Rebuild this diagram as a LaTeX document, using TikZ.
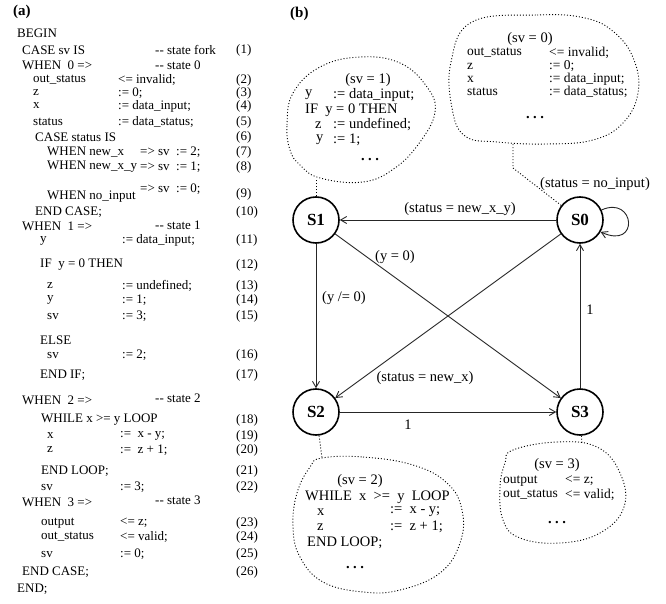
\documentclass[tikz,border=0pt]{standalone}
\usepackage{fontspec}
\setmainfont{Liberation Serif}
\usetikzlibrary{arrows.meta}
\newcommand{\morecode}{\textbf{.\hspace{3.5pt}.\hspace{3.5pt}.}}

\begin{document}
\begin{tikzpicture}[x=1pt,y=-1pt,
  code/.style={anchor=west,inner sep=0pt,font=\fontsize{13}{14}\selectfont},
  note/.style={anchor=west,inner sep=0pt,font=\fontsize{14.5}{15}\selectfont},
  small/.style={anchor=west,inner sep=0pt,font=\fontsize{13.5}{14}\selectfont},
  ctext/.style={inner sep=0pt,font=\fontsize{14.5}{15}\selectfont},
  panel/.style={anchor=west,inner sep=0pt,font=\fontsize{15}{16}\bfseries\selectfont},
  state/.style={circle,draw,line width=1.6pt,minimum size=46pt,inner sep=0pt,
                font=\fontsize{17}{18}\bfseries\selectfont},
  arr/.style={-{Straight Barb[length=6pt,width=7pt]},black!85,line width=0.9pt},
  cloud/.style={dash pattern=on 1pt off 2pt,line width=0.9pt}
]
\useasboundingbox (0,0) rectangle (666,604);

% (a) listing
\node[panel] (pa) at (13,12) {(a)};
\foreach \x/\y/\t [count=\i] in {
  17/33/BEGIN, 22/50/CASE sv IS, 155/50/-{}- state fork,
  22/65/WHEN\ \ 0 =>, 155/65/-{}- state 0,
  33/80/out\_status, 118/80/<= invalid;, 33/93/z, 118/93/:= 0;,
  33/106/x, 118/106/:= data\_input;, 33/122/status, 118/122/:= data\_status;,
  35/137/CASE status IS,
  47/152/WHEN new\_x, 140/152/=> sv\ \ := 2;,
  47/167/WHEN new\_x\_y, 140/167/=> sv\ \ := 1;,
  47/197/WHEN no\_input, 140/189/=> sv\ \ := 0;,
  35/212/END CASE;,
  22/226/WHEN\ \ 1 =>, 155/225/-{}- state 1,
  40/241/y, 122/240/:= data\_input;,
  40/265/IF\ \ y = 0 THEN,
  47/286/z, 122/286/:= undefined;, 47/300/y, 122/300/:= 1;,
  47/316/sv, 122/316/:= 3;,
  40/340/ELSE, 47/355/sv, 122/355/:= 2;, 40/375/END IF;,
  22/400/WHEN\ \ 2 =>, 155/398/-{}- state 2,
  41/420/WHILE x >= y LOOP,
  47/436/x, 120/436/:=\ \ x - y;, 47/450/z, 120/450/:=\ \ z + 1;,
  41/471/END LOOP;, 41/487/sv, 120/487/:= 3;,
  22/502/WHEN\ \ 3 =>, 155/500/-{}- state 3,
  41/523/output, 120/523/<= z;, 41/537/out\_status, 120/537/<= valid;,
  41/554/sv, 120/554/:= 0;,
  22/572/END CASE;, 17/589/END;}
  \node[code] (l\i) at (\x,\y) {\t};
\foreach \y [count=\n] in {50,80,93,106,122,137,152,167,194,212,240,265,286,300,
  316,355,375,420,436,450,471,487,523,537,554,572}
  \node[code] (n\n) at (236,\y) {(\n)};

% (b) state graph
\node[panel] (pb) at (290,14) {(b)};
\node[state] (S1) at (316,220) {S1};
\node[state] (S0) at (580,220) {S0};
\node[state] (S2) at (316,412) {S2};
\node[state] (S3) at (580,412) {S3};

\draw[arr] (S0) -- (S1);
\draw[arr] (S1) -- (S2);
\draw[arr] (S1) -- (S3);
\draw[arr] (S0) -- (S2);
\draw[arr] (S3) -- (S0);
\draw[arr] (S2) -- (S3);
\draw[arr] (S0.25) .. controls (635,195) and (640,250) .. (S0.-30);

\node[ctext] (e01) at (460,209) {(status = new\_x\_y)};
\node[ctext] (e13) at (395,257) {(y = 0)};
\node[note]  (e12) at (322,298) {(y /= 0)};
\node[ctext] (e02) at (425,378) {(status = new\_x)};
\node[ctext] (e30) at (590,310) {1};
\node[ctext] (e23) at (408,425) {1};
\node[ctext] (e00) at (595,184) {(status = no\_input)};

% state bubbles
\draw[cloud] plot[smooth cycle,tension=0.7] coordinates {(290,150) (287,125) (293,93)
  (320,67) (360,57) (400,63) (427,87) (435,112) (420,142) (395,168) (363,182)
  (320,178) (300,165)};
\draw[cloud] plot[smooth cycle,tension=0.7] coordinates {(472,22) (537,15) (585,18)
  (615,33) (634,60) (638,93) (623,123) (593,140) (547,144) (497,142) (465,136)
  (452,108) (451,62)};
\draw[cloud] plot[smooth cycle,tension=0.7] coordinates {(322,458) (363,457) (413,465)
  (447,483) (462,510) (460,543) (440,573) (400,590) (363,592) (323,582) (300,557)
  (293,527) (297,493) (310,467)};
\draw[cloud] plot[smooth cycle,tension=0.7] coordinates {(513,450) (557,442) (597,447)
  (620,473) (624,507) (600,533) (560,543) (520,538) (503,520) (500,487) (505,463)};

\coordinate (c1) at (316,179);
\coordinate (c0a) at (513,168);
\coordinate (c0b) at (513,143);
\coordinate (c2) at (322,458);
\coordinate (c3) at (582,444);
\draw[cloud] (S1) -- (c1);
\draw[cloud] (S0) -- (c0a) -- (c0b);
\draw[cloud] (S2) -- (c2);
\draw[cloud] (S3) -- (c3);

\node[ctext] (v1) at (368,80) {(sv = 1)};
\node[note] (v1a) at (305,95) {y};
\node[note] (v1b) at (333,95) {:= data\_input;};
\node[note] (v1c) at (305,110) {IF\ \ y = 0 THEN};
\node[note] (v1d) at (315,125) {z};
\node[note] (v1e) at (333,125) {:= undefined;};
\node[note] (v1f) at (316,140) {y};
\node[note] (v1g) at (333,140) {:= 1;};
\node[ctext] (v1h) at (370,160) {\morecode};

\node[ctext] (v0) at (530,39) {(sv = 0)};
\node[small] (v0a) at (467,53) {out\_status};
\node[small] (v0b) at (549,53) {<= invalid;};
\node[small] (v0c) at (467,66) {z};
\node[small] (v0d) at (549,66) {:= 0;};
\node[small] (v0e) at (467,79) {x};
\node[small] (v0f) at (549,79) {:= data\_input;};
\node[small] (v0g) at (467,92) {status};
\node[small] (v0h) at (549,92) {:= data\_status;};
\node[ctext] (v0i) at (535,118) {\morecode};

\node[ctext] (v2) at (360,481) {(sv = 2)};
\node[note] (v2a) at (305,497) {WHILE\ \ x\ \ >=\ \ y\ \ LOOP};
\node[note] (v2b) at (317,512) {x};
\node[note] (v2c) at (390,512) {:=\ \ x - y;};
\node[note] (v2d) at (317,527) {z};
\node[note] (v2e) at (390,527) {:=\ \ z + 1;};
\node[note] (v2f) at (307,543) {END LOOP;};
\node[ctext] (v2g) at (355,568) {\morecode};

\node[ctext] (v3) at (557,465) {(sv = 3)};
\node[small] (v3a) at (503,481) {output};
\node[small] (v3b) at (565,481) {<= z;};
\node[small] (v3c) at (503,495) {out\_status};
\node[small] (v3d) at (565,495) {<= valid;};
\node[ctext] (v3e) at (557,523) {\morecode};
\end{tikzpicture}
\end{document}
